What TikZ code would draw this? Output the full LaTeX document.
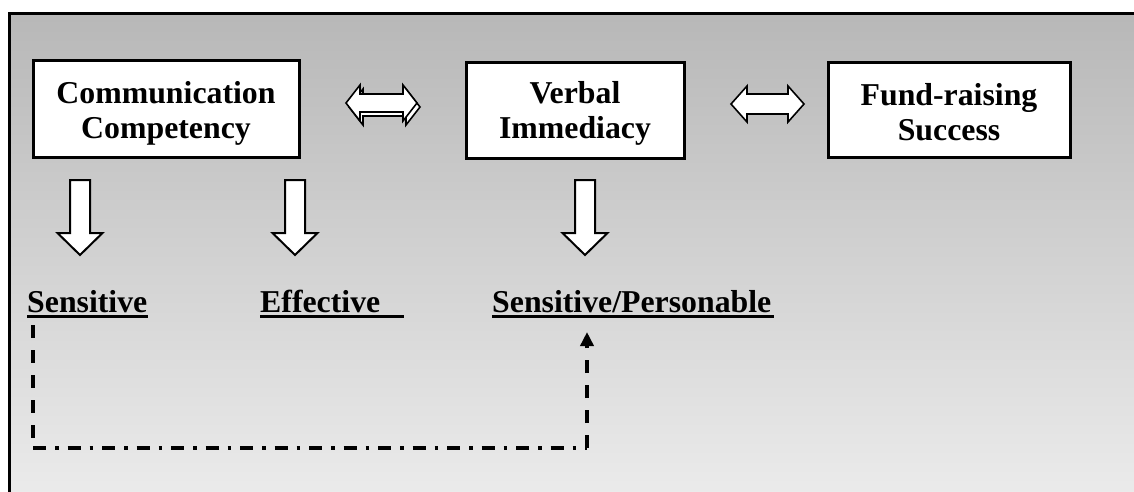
\documentclass[tikz,border=0pt]{standalone}
\usepackage{fontspec}
\setmainfont{Liberation Serif}
\usetikzlibrary{arrows.meta}
\newcommand{\bigbf}{\fontsize{31.8}{35}\selectfont\bfseries}
\begin{document}
\begin{tikzpicture}[x=1pt,y=-1pt,
  box/.style={draw,line width=3pt,fill=white,inner sep=0pt},
  boxtext/.style={align=center,font=\bigbf,inner sep=0pt},
  lbl/.style={font=\bigbf,inner sep=0pt,anchor=base west},
  uline/.style={line width=3pt},
  blockarrow/.style={draw,line width=2pt,fill=white,line join=miter},
  lrarrow/.style={draw,line width=1.6pt,fill=white,line join=miter},
  vdash/.style={line width=3.5pt,dash pattern=on 13pt off 12pt},
  hdashdot/.style={line width=3.5pt,dash pattern=on 13pt off 9pt on 3.5pt off 9pt},
  downarrow/.pic={\path[blockarrow] (-10,0) -- (-10,53) -- (-22.5,53) -- (0,75) -- (22.5,53) -- (10,53) -- (10,0) -- cycle;}
]
\useasboundingbox (0,0) rectangle (1134,491);
\clip (0,0) rectangle (1134,491);
\fill[white] (0,0) rectangle (1134,491);
% background
\shade[top color=black!28, middle color=black!22, bottom color=black!8] (9.5,13.5) rectangle (1134,491);
% frame
\draw[line width=3pt] (9.5,500) -- (9.5,13.5) -- (1140,13.5);

% boxes
\node[box,minimum width=266pt,minimum height=97pt] (cc) at (166,108.5) {};
\node[boxtext] (cct) at ([yshift=-4.5pt]cc.center) {Communication\\Competency};
\node[box,minimum width=218pt,minimum height=96pt] (vi) at (575,110) {};
\node[boxtext] (vit) at ([yshift=-3pt]vi.center) {Verbal\\Immediacy};
\node[box,minimum width=242pt,minimum height=95pt] (fs) at (949,109.5) {};
\node[boxtext] (fst) at ([yshift=-2.5pt]fs.center) {Fund-raising\\Success};

% double arrows between boxes
\path[lrarrow] ([xshift=3pt,yshift=-4pt]346,103) -- ++(14,-18) -- ++(0,9) -- ++(43,0) -- ++(0,-9) -- ++(14,18) -- ++(-14,18) -- ++(0,-9) -- ++(-43,0) -- ++(0,9) -- cycle;
\path[lrarrow] (346,103) -- (360,85) -- (360,94) -- (403,94) -- (403,85) -- (417,103) -- (403,121) -- (403,112) -- (360,112) -- (360,121) -- cycle;
\path[lrarrow] (731,104) -- (747,86) -- (747,94) -- (788,94) -- (788,86) -- (804,104) -- (788,122) -- (788,114) -- (747,114) -- (747,122) -- cycle;

% down block arrows
\pic at (80,180) {downarrow};
\pic at (295,180) {downarrow};
\pic at (585,180) {downarrow};

% labels
\node[lbl] (sens) at (27,312) {Sensitive};
\node[lbl] (eff) at (260,312) {Effective};
\node[lbl] (spn) at (492,312) {Sensitive/Personable};
\draw[uline] ([yshift=-4.5pt]sens.base west) -- ([yshift=-4.5pt]sens.base east);
\draw[uline] ([yshift=-4.5pt]eff.base west) -- ([xshift=24pt,yshift=-4.5pt]eff.base east);
\draw[uline] ([yshift=-4.5pt]spn.base west) -- ([xshift=2pt,yshift=-4.5pt]spn.base east);

% dashed connector
\coordinate (d0) at (33,325);
\coordinate (d1) at (33,448);
\coordinate (d2) at (587,448);
\coordinate (d3) at (587,332);
\draw[vdash] (d0) -- (d1);
\draw[hdashdot] (d1) -- (d2);
\draw[vdash,-{Triangle[length=14pt,width=13pt]}] (d2) -- (d3);
\end{tikzpicture}
\end{document}
